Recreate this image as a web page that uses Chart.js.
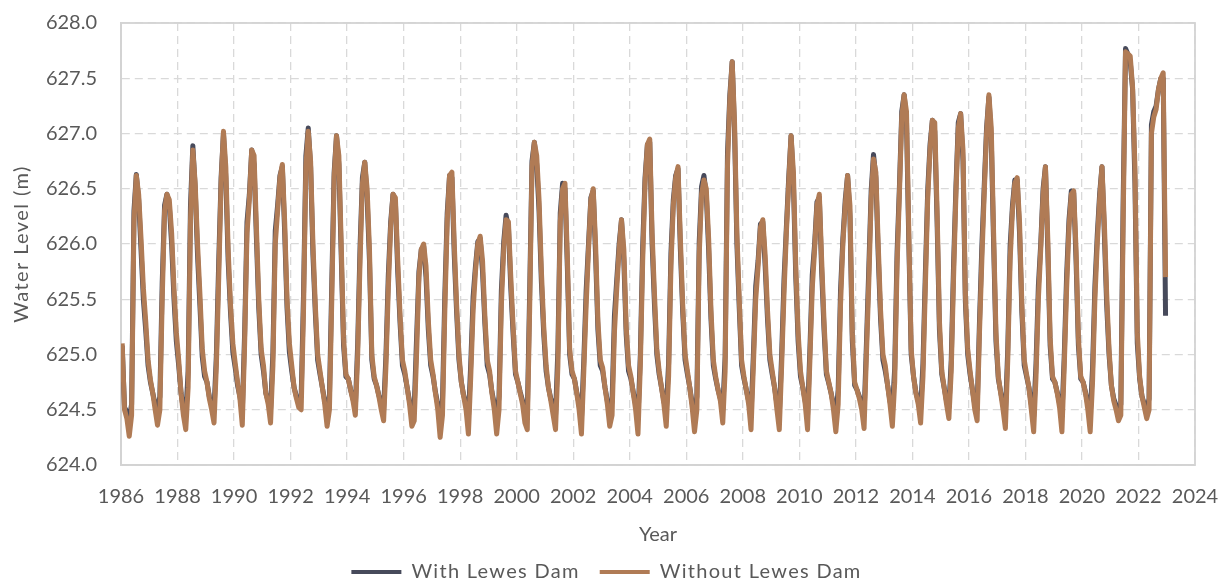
<!DOCTYPE html>
<html>
<head>
<meta charset="utf-8">
<script src="https://cdn.jsdelivr.net/npm/chart.js@4.4.1/dist/chart.umd.min.js"></script>
<style>
html,body{margin:0;padding:0;background:#ffffff;}
canvas{display:block;}
</style>
</head>
<body>
<canvas id="chart" width="1227" height="583"></canvas>
<script>
// ---------- DATA (monthly mid-month readings, Jan..Dec, metres) ----------
const years = [1986,1987,1988,1989,1990,1991,1992,1993,1994,1995,1996,1997,1998,1999,2000,2001,2002,2003,2004,2005,2006,2007,2008,2009,2010,2011,2012,2013,2014,2015,2016,2017,2018,2019,2020,2021,2022];

const withoutDamRows = [
  [625.10,624.50,624.42,624.26,624.45,626.20,626.62,626.45,626.05,625.60,625.30,624.95], // 1986
  [624.77,624.65,624.50,624.36,624.50,625.50,626.30,626.45,626.40,626.10,625.60,625.20], // 1987
  [624.95,624.65,624.45,624.32,624.70,626.20,626.85,626.55,626.00,625.55,625.05,624.85], // 1988
  [624.75,624.60,624.50,624.38,624.90,625.70,626.55,627.02,626.70,625.95,625.45,625.10], // 1989
  [624.92,624.75,624.60,624.36,625.10,626.10,626.40,626.85,626.80,626.15,625.50,625.05], // 1990
  [624.90,624.65,624.55,624.38,624.90,626.00,626.30,626.60,626.72,626.20,625.50,625.10], // 1991
  [624.90,624.70,624.60,624.52,624.50,625.40,626.70,627.02,626.75,626.00,625.45,625.00], // 1992
  [624.85,624.70,624.55,624.35,624.50,625.50,626.60,626.98,626.80,626.00,625.15,624.82], // 1993
  [624.78,624.68,624.58,624.45,625.00,625.85,626.55,626.74,626.50,625.95,625.00,624.80], // 1994
  [624.72,624.62,624.50,624.40,624.90,625.60,626.15,626.45,626.42,625.85,625.35,624.95], // 1995
  [624.85,624.70,624.55,624.35,624.40,625.00,625.70,625.95,626.00,625.80,625.30,624.95], // 1996
  [624.82,624.65,624.50,624.25,624.45,625.40,626.20,626.62,626.65,626.00,625.45,625.00], // 1997
  [624.75,624.62,624.50,624.28,624.80,625.40,625.75,626.00,626.07,625.85,625.35,624.95], // 1998
  [624.85,624.65,624.50,624.28,624.50,625.45,625.95,626.22,626.20,625.70,625.25,624.85], // 1999
  [624.75,624.65,624.55,624.38,624.32,625.40,626.70,626.92,626.80,626.40,625.75,625.25], // 2000
  [624.90,624.70,624.58,624.45,624.32,624.90,626.20,626.50,626.55,625.90,625.05,624.85], // 2001
  [624.78,624.65,624.50,624.28,624.85,625.45,625.95,626.40,626.50,626.00,625.30,624.95], // 2002
  [624.88,624.70,624.55,624.35,624.45,625.20,625.60,625.95,626.22,625.95,625.25,624.90], // 2003
  [624.80,624.65,624.50,624.28,624.90,625.85,626.55,626.90,626.95,626.10,625.55,625.05], // 2004
  [624.85,624.70,624.55,624.35,624.80,625.80,626.35,626.60,626.70,626.05,625.45,625.00], // 2005
  [624.85,624.70,624.52,624.30,624.50,625.90,626.45,626.58,626.50,626.05,625.40,624.95], // 2006
  [624.80,624.68,624.58,624.38,624.85,626.70,627.30,627.65,627.10,626.10,625.50,624.95], // 2007
  [624.80,624.68,624.55,624.32,624.90,625.50,625.80,626.15,626.22,625.90,625.40,625.00], // 2008
  [624.85,624.70,624.50,624.32,624.90,625.55,626.10,626.55,626.98,626.65,625.80,625.20], // 2009
  [624.85,624.70,624.55,624.32,624.95,625.60,625.95,626.35,626.45,625.85,625.30,624.85], // 2010
  [624.75,624.65,624.50,624.30,624.55,625.45,626.00,626.35,626.62,626.35,625.20,624.75], // 2011
  [624.68,624.60,624.50,624.33,625.00,625.65,626.40,626.77,626.65,626.00,625.40,625.00], // 2012
  [624.90,624.72,624.55,624.35,624.75,625.80,626.45,627.15,627.35,627.20,626.10,625.05], // 2013
  [624.80,624.65,624.55,624.38,624.80,625.60,626.40,626.85,627.12,627.10,626.30,625.30], // 2014
  [624.85,624.70,624.55,624.42,624.85,625.70,626.45,627.05,627.18,626.85,625.55,625.05], // 2015
  [624.85,624.68,624.50,624.40,625.20,625.85,626.45,627.00,627.35,627.05,626.10,625.20], // 2016
  [624.80,624.65,624.50,624.33,624.95,625.85,626.30,626.55,626.60,626.20,625.45,624.95], // 2017
  [624.82,624.70,624.50,624.30,624.80,625.50,625.95,626.45,626.70,626.05,625.15,624.80], // 2018
  [624.75,624.65,624.52,624.30,624.90,625.60,626.15,626.45,626.48,625.95,625.15,624.80], // 2019
  [624.75,624.65,624.50,624.30,624.75,625.50,626.00,626.40,626.70,626.20,625.55,625.05], // 2020
  [624.72,624.58,624.50,624.40,624.45,626.20,627.74,627.72,627.70,627.42,626.70,625.20], // 2021
  [624.80,624.62,624.52,624.42,624.50,627.00,627.15,627.22,627.40,627.50,627.55,625.70]  // 2022
];

const withDamRows = [
  [625.08,624.52,624.48,624.42,624.55,626.30,626.63,626.40,625.95,625.50,625.22,624.90], // 1986
  [624.75,624.65,624.55,624.50,624.62,625.65,626.35,626.45,626.35,626.00,625.50,625.12], // 1987
  [624.90,624.65,624.50,624.45,624.85,626.35,626.89,626.50,625.90,625.45,624.98,624.80], // 1988
  [624.75,624.62,624.55,624.50,625.00,625.85,626.60,627.00,626.60,625.85,625.38,625.02], // 1989
  [624.88,624.72,624.62,624.48,625.20,626.20,626.45,626.85,626.72,626.05,625.42,625.00], // 1990
  [624.85,624.65,624.58,624.50,625.02,626.12,626.35,626.62,626.70,626.10,625.42,625.02], // 1991
  [624.85,624.70,624.62,624.58,624.62,625.55,626.80,627.05,626.70,625.90,625.38,624.95], // 1992
  [624.82,624.70,624.58,624.48,624.62,625.65,626.65,626.98,626.72,625.90,625.08,624.80], // 1993
  [624.78,624.68,624.60,624.52,625.10,625.98,626.60,626.74,626.42,625.85,624.95,624.78], // 1994
  [624.72,624.63,624.55,624.50,625.00,625.72,626.20,626.45,626.38,625.75,625.28,624.90], // 1995
  [624.82,624.70,624.58,624.48,624.52,625.15,625.75,625.95,625.98,625.70,625.22,624.90], // 1996
  [624.80,624.66,624.55,624.40,624.58,625.55,626.28,626.62,626.60,625.90,625.38,624.95], // 1997
  [624.75,624.63,624.55,624.42,624.92,625.52,625.80,626.02,626.05,625.75,625.28,624.90], // 1998
  [624.82,624.66,624.55,624.42,624.62,625.58,626.02,626.26,626.15,625.60,625.18,624.82], // 1999
  [624.75,624.66,624.58,624.48,624.45,625.55,626.75,626.92,626.72,626.30,625.65,625.18], // 2000
  [624.85,624.70,624.60,624.52,624.45,625.05,626.28,626.55,626.50,625.80,625.00,624.82], // 2001
  [624.78,624.66,624.55,624.42,624.95,625.58,626.00,626.42,626.48,625.90,625.22,624.90], // 2002
  [624.85,624.70,624.58,624.48,624.58,625.35,625.68,626.00,626.22,625.85,625.18,624.85], // 2003
  [624.78,624.66,624.55,624.42,625.00,625.98,626.60,626.90,626.92,626.00,625.45,625.00], // 2004
  [624.82,624.70,624.58,624.48,624.92,625.92,626.40,626.62,626.68,625.95,625.38,624.95], // 2005
  [624.82,624.70,624.56,624.45,624.62,626.02,626.52,626.62,626.45,625.95,625.32,624.90], // 2006
  [624.78,624.68,624.60,624.50,624.98,626.82,627.35,627.65,627.02,626.00,625.42,624.90], // 2007
  [624.78,624.68,624.58,624.45,625.00,625.62,625.85,626.18,626.20,625.80,625.32,624.95], // 2008
  [624.82,624.70,624.55,624.45,625.00,625.68,626.15,626.60,626.98,626.55,625.70,625.12], // 2009
  [624.80,624.70,624.58,624.45,625.05,625.72,626.00,626.38,626.42,625.75,625.22,624.82], // 2010
  [624.74,624.65,624.55,624.44,624.68,625.58,626.05,626.40,626.62,626.25,625.12,624.72], // 2011
  [624.68,624.62,624.55,624.45,625.10,625.78,626.48,626.81,626.60,625.90,625.32,624.95], // 2012
  [624.85,624.72,624.58,624.48,624.88,625.92,626.52,627.20,627.35,627.12,626.00,625.00], // 2013
  [624.80,624.66,624.58,624.50,624.92,625.72,626.48,626.90,627.12,627.02,626.20,625.22], // 2014
  [624.82,624.70,624.58,624.52,624.95,625.82,626.52,627.10,627.18,626.75,625.48,625.00], // 2015
  [624.82,624.68,624.55,624.50,625.30,625.98,626.52,627.05,627.33,626.95,626.00,625.12], // 2016
  [624.78,624.66,624.55,624.46,625.05,625.98,626.35,626.58,626.58,626.10,625.38,624.90], // 2017
  [624.80,624.70,624.55,624.44,624.92,625.62,626.00,626.50,626.70,625.95,625.08,624.78], // 2018
  [624.75,624.66,624.56,624.44,625.00,625.72,626.22,626.48,626.46,625.85,625.08,624.78], // 2019
  [624.75,624.66,624.55,624.44,624.88,625.62,626.08,626.45,626.70,626.10,625.45,625.00], // 2020
  [624.72,624.60,624.54,624.48,624.55,626.40,627.77,627.72,627.65,627.40,626.55,625.10], // 2021
  [624.78,624.62,624.55,624.50,624.60,627.08,627.20,627.25,627.40,627.50,627.50,625.35]  // 2022
];

const seriesNames = ['With Lewes Dam', 'Without Lewes Dam'];
const seriesColors = ['#474a5b', '#b07b55'];
const xTickYears = [1986,1988,1990,1992,1994,1996,1998,2000,2002,2004,2006,2008,2010,2012,2014,2016,2018,2020,2022,2024];
const yTickValues = [624.0,624.5,625.0,625.5,626.0,626.5,627.0,627.5,628.0];
const xTitle = 'Year';
const yTitle = 'Water Level (m)';

// ---------- build ----------
function toPoints(rows) {
  const pts = [];
  rows.forEach((row, i) => {
    row.forEach((v, m) => pts.push({ x: years[i] + (m + 0.5) / 12, y: v }));
  });
  return pts;
}

const FONT = 'Lato, "Open Sans", sans-serif';
const TEXT = '#595959';

const frame = {
  id: 'frame',
  afterInit(chart) {
    const lg = chart.legend;
    if (!lg) return;
    const f = lg.fit.bind(lg), d = lg.draw.bind(lg);
    lg.fit = function () {
      const c = chart.ctx; c.save(); c.letterSpacing = '1.3px'; f(); c.restore();
      lg.height = 36;
    };
    lg.draw = function (a) {
      const c = chart.ctx; c.save(); c.letterSpacing = '1.3px'; c.translate(4, -5); d(a); c.restore();
    };
  },
  beforeDraw(chart) {
    const s = chart.scales.y;
    if (s && !s._spacedTitle) {
      const dt = s.drawTitle.bind(s);
      s.drawTitle = function () { const c = chart.ctx; c.save(); c.letterSpacing = '1.4px'; dt(); c.restore(); };
      s._spacedTitle = true;
    }
  },
  beforeDatasetsDraw(chart) {
    const { ctx, chartArea: a } = chart;
    ctx.save();
    ctx.strokeStyle = '#d3d3d3';
    ctx.lineWidth = 1.8;
    ctx.setLineDash([]);
    ctx.strokeRect(a.left, a.top, a.right - a.left, a.bottom - a.top);
    ctx.restore();
  }
};

new Chart(document.getElementById('chart'), {
  type: 'line',
  data: {
    datasets: [
      { label: seriesNames[0], data: toPoints(withDamRows), borderColor: seriesColors[0], backgroundColor: seriesColors[0], order: 1 },
      { label: seriesNames[1], data: toPoints(withoutDamRows), borderColor: seriesColors[1], backgroundColor: seriesColors[1], order: 0 }
    ]
  },
  options: {
    responsive: false,
    animation: false,
    devicePixelRatio: 1,
    elements: {
      point: { radius: 0, hoverRadius: 0 },
      line: { borderWidth: 5, tension: 0, borderJoinStyle: 'round', borderCapStyle: 'butt' }
    },
    layout: { padding: { left: 10, right: 32, top: 23, bottom: 0 } },
    plugins: {
      tooltip: { enabled: false },
      legend: {
        position: 'bottom',
        labels: {
          boxWidth: 50,
          boxHeight: 4,
          padding: 20,
          color: TEXT,
          font: { family: FONT, size: 20 },
          generateLabels(chart) {
            const items = Chart.defaults.plugins.legend.labels.generateLabels(chart);
            items.sort((a, b) => a.datasetIndex - b.datasetIndex);
            return items.map(it => Object.assign(it, { lineWidth: 0, fillStyle: it.strokeStyle }));
          }
        }
      }
    },
    scales: {
      x: {
        type: 'linear',
        min: xTickYears[0],
        max: xTickYears[xTickYears.length - 1],
        afterBuildTicks(scale) { scale.ticks = xTickYears.map(v => ({ value: v })); },
        afterFit(scale) { scale.height = 82; },
        ticks: {
          autoSkip: false, maxRotation: 0, padding: 0,
          color: TEXT, font: { family: FONT, size: 20 },
          callback: v => String(v)
        },
        grid: { color: '#d9d9d9', lineWidth: 1.3, drawTicks: true, tickLength: 20, tickColor: 'rgba(0,0,0,0)' },
        border: { display: true, color: '#d3d3d3', width: 1.8, dash: [8, 5] },
        title: { display: true, text: xTitle, color: TEXT, font: { family: FONT, size: 20 }, padding: { top: 10, bottom: 0 } }
      },
      y: {
        type: 'linear',
        min: yTickValues[0],
        max: yTickValues[yTickValues.length - 1],
        afterBuildTicks(scale) { scale.ticks = yTickValues.map(v => ({ value: v })); },
        afterFit(scale) { scale.width = 111; },
        ticks: {
          padding: 0,
          color: TEXT, font: { family: FONT, size: 20 },
          callback: v => Number(v).toFixed(1)
        },
        grid: { color: '#d9d9d9', lineWidth: 1.3, drawTicks: true, tickLength: 24, tickColor: 'rgba(0,0,0,0)' },
        border: { display: true, color: '#d3d3d3', width: 1.8, dash: [8, 5] },
        title: { display: true, text: yTitle, color: TEXT, font: { family: FONT, size: 20 }, padding: { top: 0, bottom: 4 } }
      }
    }
  },
  plugins: [frame]
});
</script>
</body>
</html>
